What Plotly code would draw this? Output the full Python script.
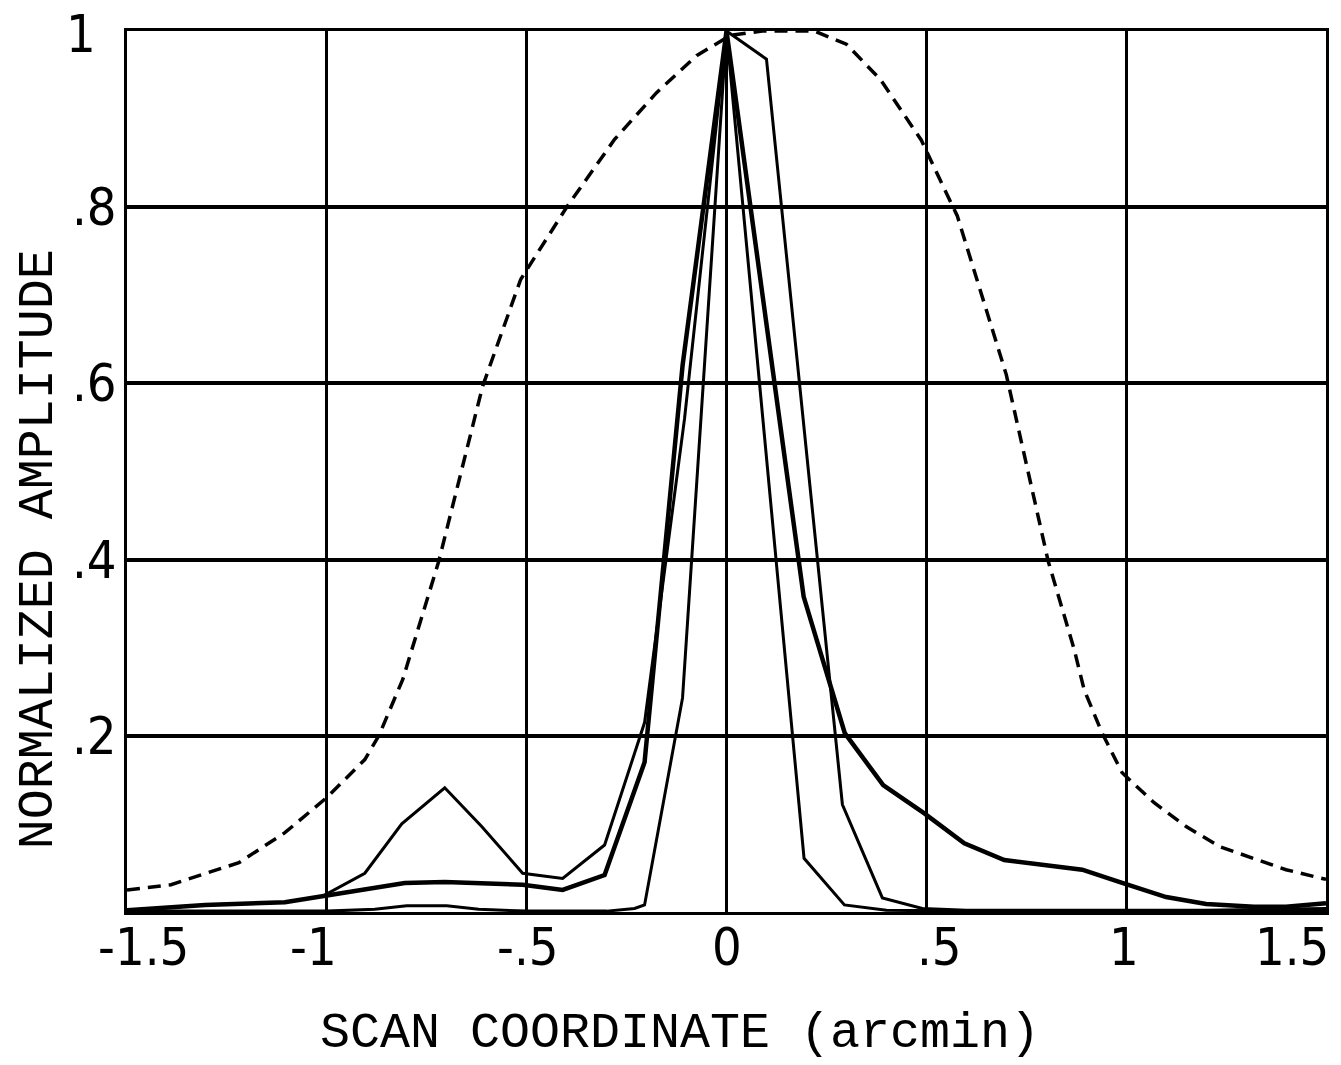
import plotly.graph_objects as go

# broad dashed beam profile
dash_x = [-1.5, -1.39, -1.22, -1.105, -1.0, -0.905, -0.87, -0.81, -0.72, -0.61,
          -0.515, -0.40, -0.28, -0.175, -0.075, 0.01, 0.09, 0.22, 0.30, 0.385,
          0.4875, 0.5775, 0.70, 0.805, 0.87, 0.895, 0.94, 0.99, 1.07, 1.15,
          1.235, 1.32, 1.40, 1.5]
dash_y = [0.025, 0.031, 0.056, 0.09, 0.13, 0.173, 0.2, 0.264, 0.398, 0.597,
          0.718, 0.80, 0.877, 0.93, 0.972, 0.995, 1.0, 1.0, 0.985, 0.945,
          0.876, 0.79, 0.61, 0.398, 0.298, 0.252, 0.203, 0.158, 0.124, 0.097,
          0.074, 0.061, 0.048, 0.037]

# thick solid curve (flat shoulder left, long tail right)
thick_x = [-1.5, -1.305, -1.105, -1.01, -0.905, -0.805, -0.705, -0.6, -0.51, -0.41,
           -0.305, -0.205, -0.11, 0.0, 0.193, 0.296, 0.392, 0.495, 0.595, 0.695,
           0.89, 0.99, 1.1, 1.2, 1.32, 1.4, 1.5]
thick_y = [0.002, 0.008, 0.011, 0.018, 0.025, 0.033, 0.034, 0.032, 0.031, 0.025,
           0.042, 0.17, 0.62, 1.0, 0.358, 0.203, 0.144, 0.112, 0.078, 0.059,
           0.048, 0.033, 0.017, 0.009, 0.006, 0.006, 0.01]

# curve with the side lobe near -0.7
lobe_x = [-1.5, -1.305, -1.105, -1.01, -0.905, -0.8125, -0.705, -0.6125, -0.51, -0.41,
          -0.305, -0.205, -0.105, 0.0, 0.1, 0.29, 0.39, 0.49, 0.6, 0.8,
          1.0, 1.2, 1.5]
lobe_y = [0.002, 0.008, 0.011, 0.018, 0.044, 0.10, 0.141, 0.097, 0.044, 0.038,
          0.076, 0.215, 0.56, 1.0, 0.968, 0.122, 0.016, 0.004, 0.002, 0.002,
          0.002, 0.002, 0.004]

# narrowest curve
narrow_x = [-1.5, -1.0, -0.88, -0.8, -0.7, -0.62, -0.5, -0.3, -0.23, -0.205,
            -0.11, 0.0, 0.194, 0.295, 0.4, 0.6, 1.0, 1.5]
narrow_y = [0.001, 0.001, 0.003, 0.007, 0.007, 0.003, 0.001, 0.001, 0.004, 0.008,
            0.243, 1.0, 0.061, 0.008, 0.002, 0.001, 0.001, 0.001]

grid_x = [-1, -0.5, 0, 0.5, 1]
grid_y = [0.2, 0.4, 0.6, 0.8]

x_tick_vals = [-1.5, -1, -0.5, 0, 0.5, 1, 1.5]
x_tick_text = ["-1.5", "-1", "-.5", "0", ".5", "1", "1.5"]
y_tick_vals = [0.2, 0.4, 0.6, 0.8, 1.0]
y_tick_text = [".2", ".4", ".6", ".8", "1"]

# label offsets in px (plotter placement)
x_label_shift = [16, -13, 1, 0, 13, -2, -34]

TICK_FONT = "Liberation Sans Narrow, DejaVu Sans Condensed, Arial Narrow, sans-serif"
TITLE_FONT = "Liberation Mono, DejaVu Sans Mono, monospace"

fig = go.Figure()
fig.add_trace(go.Scatter(x=dash_x, y=dash_y, mode="lines",
                         line=dict(color="black", width=3.5, dash="13px,8px")))
fig.add_trace(go.Scatter(x=narrow_x, y=narrow_y, mode="lines",
                         line=dict(color="black", width=3)))
fig.add_trace(go.Scatter(x=lobe_x, y=lobe_y, mode="lines",
                         line=dict(color="black", width=3)))
fig.add_trace(go.Scatter(x=thick_x, y=thick_y, mode="lines",
                         line=dict(color="black", width=4.5)))

annotations = []
for v, t, s in zip(x_tick_vals, x_tick_text, x_label_shift):
    annotations.append(dict(x=v, y=0, xref="x", yref="paper", text=t,
                            showarrow=False, xanchor="center", yanchor="middle",
                            xshift=s, yshift=-35,
                            font=dict(family=TICK_FONT, size=52, color="black")))
for v, t in zip(y_tick_vals, y_tick_text):
    if t == "1":
        anchor, shift, vshift = "center", -46, -3
    else:
        anchor, shift, vshift = "right", -8, 0
    annotations.append(dict(x=0, y=v, xref="paper", yref="y", text=t,
                            showarrow=False, xanchor=anchor, yanchor="middle",
                            xshift=shift, yshift=vshift,
                            font=dict(family=TICK_FONT, size=52, color="black")))

annotations.append(dict(x=0.461, y=-0.145, xref="paper", yref="paper",
                        text="SCAN COORDINATE (arcmin)", showarrow=False,
                        xanchor="center", yanchor="middle", yshift=6,
                        font=dict(family=TITLE_FONT, size=50, color="black")))
annotations.append(dict(x=-0.074, y=0.412, xref="paper", yref="paper",
                        text="NORMALIZED AMPLITUDE", showarrow=False, textangle=-90,
                        xanchor="center", yanchor="middle",
                        font=dict(family=TITLE_FONT, size=50, color="black")))

axis_style = dict(showgrid=True, gridcolor="black", zeroline=False,
                  showline=True, linecolor="black", linewidth=3, mirror=True,
                  ticks="", showticklabels=False)

fig.update_layout(
    width=1341, height=1065,
    margin=dict(l=127, r=15, t=31, b=153),
    paper_bgcolor="white", plot_bgcolor="white",
    showlegend=False,
    xaxis=dict(range=[-1.5, 1.5], tickvals=grid_x, gridwidth=2.5, **axis_style),
    yaxis=dict(range=[0, 1], tickvals=grid_y, gridwidth=3.5, **axis_style),
    annotations=annotations,
)

# drop the default 8px page margin so the figure fills the window exactly
fig.write_html("out.html", config={"displayModeBar": False},
               post_script="document.body.style.margin = '0';")
